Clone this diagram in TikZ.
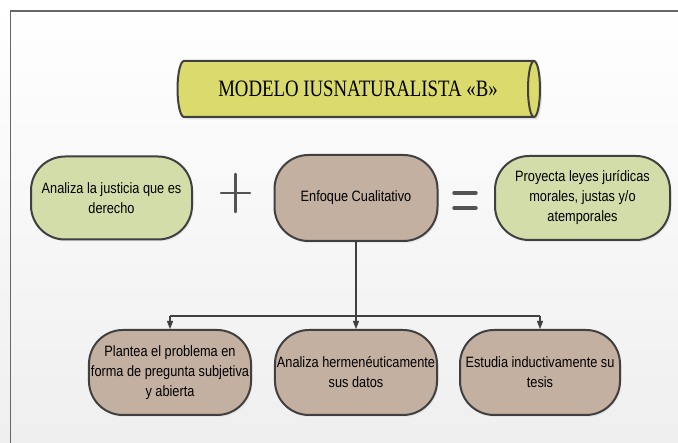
\documentclass[tikz,border=0pt]{standalone}
\usepackage{fontspec}
\setmainfont{Liberation Sans}[FakeStretch=0.85]
\newfontfamily\titlefont{Liberation Serif}[FakeStretch=0.8]
\usetikzlibrary{arrows.meta,shadows,calc}
\definecolor{boxgreen}{HTML}{D3DDA9}
\definecolor{boxbrown}{HTML}{C4B0A1}
\definecolor{titlefill}{HTML}{DADB6C}
\definecolor{edge}{HTML}{404040}
\definecolor{bgbottom}{HTML}{EFEFEF}
\begin{document}
\begin{tikzpicture}[x=1pt,y=1pt,
  pill/.style={draw=edge, line width=2pt, rounded corners=34pt, align=center,
    inner sep=2pt, font=\fontsize{15}{20}\selectfont,
    drop shadow={shadow xshift=1.5pt, shadow yshift=-2pt, fill=black!14}},
  greenpill/.style={pill, fill=boxgreen},
  brownpill/.style={pill, fill=boxbrown},
  conn/.style={draw=edge, line width=1.2pt},
  arr/.style={conn, -{Triangle[width=6pt,length=8pt]}},
  symline/.style={draw=edge!90, line cap=round},
]
\shade[top color=white, bottom color=bgbottom] (0,0) rectangle (678,443);
\useasboundingbox (0,0) rectangle (678,443);
\draw[line width=1.5pt, draw=black!60] (10.5,-2) -- (10.5,432) -- (680,432);

% title cylinder
\fill[black!13, shift={(2,-2.5)}] (184,382) -- (534,382) arc(90:-90:6 and 28) -- (184,326) arc(-90:-270:6.5 and 28) -- cycle;
\draw[fill=titlefill, draw=edge, line width=2pt, line join=round]
  (184,382) -- (534,382) arc(90:-90:6 and 28) -- (184,326) arc(-90:-270:6.5 and 28) -- cycle;
\draw[draw=edge, line width=2pt] (534,382) arc(90:270:6 and 28);
\node (title) at (358,354) {\titlefont\fontsize{23.5}{28}\selectfont MODELO IUSNATURALISTA «B»};

% top row
\node[greenpill, minimum width=161pt, minimum height=83pt] (g1) at (111.5,245)
  {Analiza la justicia que es\\derecho};
\node[brownpill, minimum width=163pt, minimum height=86pt] (enf) at (356,245)
  {Enfoque Cualitativo};
\node[greenpill, minimum width=175pt, minimum height=84pt] (g2) at (582.5,245)
  {Proyecta leyes jurídicas\\morales, justas y/o\\atemporales};

% plus and equals
\draw[symline, line width=2.5pt] (221,250) -- (250,250) (235.5,231) -- (235.5,269);
\draw[symline, line width=3.4pt] (454,250) -- (476,250) (454,235) -- (476,235);

% bottom row
\node[brownpill, minimum width=160pt, minimum height=85pt] (b1) at (170,70.5)
  {\rule{0pt}{8pt}Plantea el problema en\\forma de pregunta subjetiva\\y abierta};
\node[brownpill, minimum width=156pt, minimum height=85pt] (b2) at (356,70.5)
  {\rule{0pt}{8pt}Analiza hermenéuticamente\\sus datos};
\node[brownpill, minimum width=160pt, minimum height=85pt] (b3) at (540,70.5)
  {\rule{0pt}{8pt}Estudia inductivamente su\\tesis};

% connectors
\coordinate (hub) at (356,127);
\draw[arr] (enf.south) -- (b2.north);
\draw[conn] (hub -| b1.north) -- (hub -| b3.north);
\draw[arr] (hub -| b1.north) -- (b1.north);
\draw[arr] (hub -| b3.north) -- (b3.north);
\end{tikzpicture}
\end{document}
